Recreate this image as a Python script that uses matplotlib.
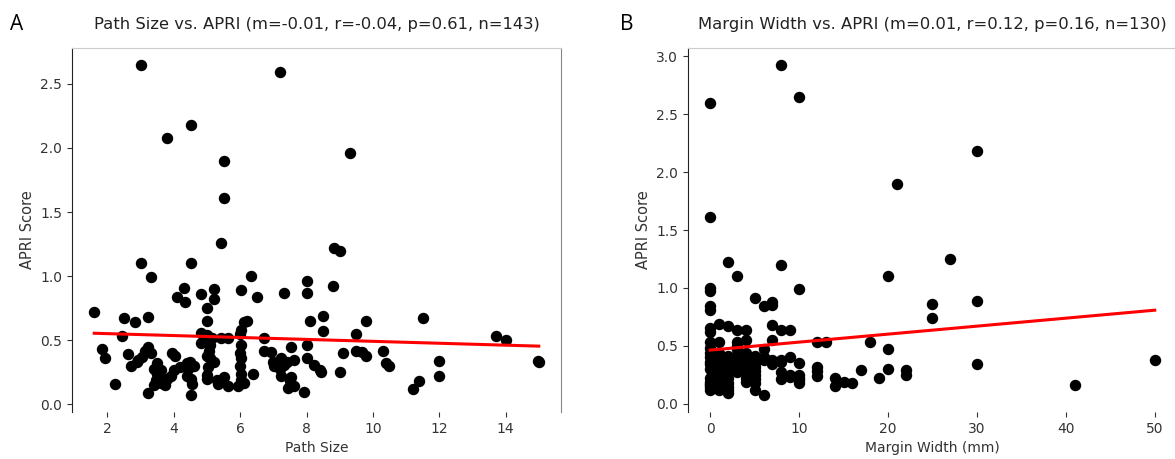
import matplotlib
matplotlib.use('Agg')
import matplotlib.pyplot as plt
import numpy as np

# panel A: path size vs APRI
path_size = [1.6, 1.82, 1.92, 2.22, 2.43, 2.5, 2.62, 2.72, 2.82, 3.0, 2.92, 3.05, 3.13, 3.23,
             3.23, 3.23, 3.31, 3.5, 3.5, 3.46, 3.4, 3.6, 3.73, 3.8, 3.93, 4.03, 4.0, 4.11,
             4.31, 4.33, 4.41, 4.43, 4.53, 4.51, 4.56, 4.53, 4.81, 4.81, 4.81, 5.0, 5.0, 5.0,
             5.07, 5.0, 5.02, 5.0, 5.22, 5.22, 5.14, 5.22, 5.32, 5.42, 5.52, 5.62, 5.62, 5.92,
             6.02, 6.02, 6.02, 6.02, 6.02, 6.02, 6.12, 6.22, 6.32, 6.4, 6.52, 6.72, 6.72, 6.92,
             7.02, 7.23, 7.33, 7.23, 7.33, 7.43, 7.53, 7.53, 7.63, 7.63, 7.93, 8.0, 8.0, 8.1,
             8.0, 8.0, 8.22, 8.4, 8.44, 8.8, 8.82, 9.0, 8.5, 8.5, 9.0, 9.1, 9.5, 9.5, 9.67,
             9.8, 9.8, 10.3, 10.4, 10.5, 11.2, 11.4, 11.5, 12.0, 12.0, 13.7, 14.0, 14.97, 15.0,
             3.0, 7.19, 3.79, 4.51, 5.5, 5.5, 5.41, 9.3,
             3.4, 3.6, 3.9, 4.2, 4.4, 4.6, 5.1, 5.1, 5.3, 6.0, 6.0, 6.1, 7.0, 7.2, 7.5, 3.3,
             3.6, 4.5, 5.0, 6.0, 7.4, 2.9]
apri_a = [0.72, 0.43, 0.36, 0.16, 0.53, 0.67, 0.39, 0.30, 0.64, 1.10, 0.35, 0.37, 0.42, 0.45,
          0.68, 0.09, 0.99, 0.32, 0.24, 0.19, 0.15, 0.21, 0.15, 0.20, 0.40, 0.38, 0.27, 0.84,
          0.91, 0.80, 0.32, 0.28, 1.10, 0.20, 0.16, 0.07, 0.86, 0.48, 0.56, 0.75, 0.65, 0.54,
          0.42, 0.38, 0.29, 0.20, 0.90, 0.82, 0.52, 0.33, 0.16, 0.52, 0.21, 0.52, 0.14, 0.14,
          0.58, 0.46, 0.36, 0.24, 0.19, 0.89, 0.64, 0.65, 1.00, 0.24, 0.84, 0.52, 0.42, 0.41,
          0.30, 0.36, 0.87, 0.22, 0.31, 0.13, 0.45, 0.21, 0.14, 0.35, 0.10, 0.96, 0.87, 0.65,
          0.46, 0.36, 0.31, 0.27, 0.25, 0.92, 1.22, 1.20, 0.69, 0.57, 0.25, 0.40, 0.55, 0.42, 0.41,
          0.38, 0.65, 0.42, 0.32, 0.30, 0.12, 0.18, 0.67, 0.34, 0.22, 0.53, 0.50, 0.34, 0.33,
          2.65, 2.59, 2.08, 2.18, 1.90, 1.61, 1.26, 1.96,
          0.28, 0.17, 0.22, 0.29, 0.22, 0.30, 0.36, 0.46, 0.19, 0.40, 0.55, 0.17, 0.33, 0.28, 0.18, 0.40,
          0.27, 0.33, 0.23, 0.30, 0.33, 0.33]
fit_a = [-0.0075, 0.567]   # slope, intercept of red line

# panel B: margin width vs APRI
margin_width = [0]*21 + [1]*12 + [2]*12 + [3]*10 + [4]*9 + [5]*10 + [6]*5 + [7]*7 + [8]*7 \
    + [9]*4 + [10]*7 + [12]*4 + [13] + [14]*2 + [15] + [16] + [17] + [18] + [19] \
    + [20]*3 + [21] + [22]*2 + [25]*2 + [27] + [30]*3 + [41] + [50]
apri_b = [2.60, 1.61, 1.00, 0.97, 0.84, 0.81, 0.65, 0.53, 0.44, 0.34, 0.19, 0.16, 0.14,
          0.30, 0.40, 0.22, 0.12, 0.48, 0.36, 0.17, 0.62,
          0.69, 0.53, 0.42, 0.35, 0.29, 0.19, 0.12, 0.25, 0.15, 0.38, 0.32, 0.44,
          1.22, 0.67, 0.41, 0.32, 0.27, 0.18, 0.09, 0.14, 0.36, 0.22, 0.30, 0.12,
          1.10, 0.64, 0.53, 0.47, 0.38, 0.27, 0.34, 0.42, 0.50, 0.30,
          0.64, 0.55, 0.41, 0.32, 0.19, 0.22, 0.36, 0.27, 0.44,
          0.91, 0.41, 0.32, 0.25, 0.18, 0.12, 0.38, 0.28, 0.21, 0.35,
          0.84, 0.47, 0.38, 0.07, 0.40,
          0.88, 0.68, 0.55, 0.38, 0.34, 0.85, 0.36,
          2.93, 1.20, 0.64, 0.38, 0.27, 0.21, 0.36,
          0.64, 0.40, 0.25, 0.23,
          2.65, 0.99, 0.35, 0.25, 0.18, 0.22, 0.20,
          0.53, 0.32, 0.24, 0.28,
          0.53, 0.22, 0.15, 0.19, 0.18, 0.29, 0.53, 0.22,
          1.10, 0.47, 0.30, 1.90, 0.29, 0.25, 0.86, 0.74, 1.25,
          2.18, 0.89, 0.34, 0.16, 0.38]
fit_b = [0.0069, 0.462]

panels = [
    ('A', path_size, apri_a, fit_a, 'Path Size',
     'Path Size vs. APRI (m=-0.01, r=-0.04, p=0.61, n=143)'),
    ('B', margin_width, apri_b, fit_b, 'Margin Width (mm)',
     'Margin Width vs. APRI (m=0.01, r=0.12, p=0.16, n=130)'),
]

fig = plt.figure(figsize=(11.75, 4.59), dpi=100)
lefts = [72/1175, 688/1175]
letter_x = [10/1175, 620/1175]

for i, (letter, xs, ys, fit, xlab, title) in enumerate(panels):
    ax = fig.add_axes([lefts[i], 47/459, 489/1175, 364/459])
    xs = np.array(xs)
    ax.scatter(xs, ys, s=52, color='black', zorder=3)
    xl = np.array([xs.min(), xs.max()])
    ax.plot(xl, np.polyval(fit, xl), color='red', lw=2.2, zorder=4)

    ax.set_title(title, fontsize=11.8, color='#222222', pad=14)
    ax.set_xlabel(xlab, fontsize=10, color='#333333')
    ax.set_ylabel('APRI Score', fontsize=10.5, color='#333333')
    ax.tick_params(labelsize=10, colors='#333333')

    ax.spines['bottom'].set_visible(False)
    ax.spines['top'].set_color('#cccccc')
    ax.spines['right'].set_color('#888888')
    ax.spines['left'].set_color('#222222')

    fig.text(letter_x[i], 1 - 30/459, letter, fontsize=15, family='Open Sans',
             va='baseline')

fig.savefig('out.png', dpi=100)
